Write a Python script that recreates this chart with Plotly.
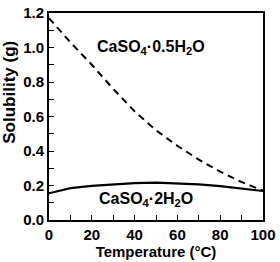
import plotly.graph_objects as go

temps = [0, 10, 20, 30, 40, 50, 60, 70, 80, 90, 100]
hemihydrate = [1.17, 1.03, 0.90, 0.76, 0.63, 0.52, 0.43, 0.35, 0.28, 0.22, 0.17]
dihydrate = [0.155, 0.185, 0.198, 0.207, 0.214, 0.217, 0.213, 0.206, 0.196, 0.184, 0.168]

x_ticks = [0, 20, 40, 60, 80, 100]
x_ticktext = ["0", "20", "40", "60", "80", "100"]
x_minor = [10, 30, 50, 70, 90]
y_ticks = [0.0, 0.2, 0.4, 0.6, 0.8, 1.0, 1.2]
y_ticktext = ["0.0", "0.2", "0.4", "0.6", "0.8", "1.0", "1.2"]
y_minor = [0.1, 0.3, 0.5, 0.7, 0.9, 1.1]

label_hemi = "CaSO<sub>4</sub>·0.5H<sub>2</sub>O"
label_di = "CaSO<sub>4</sub>·2H<sub>2</sub>O"
x_title = "Temperature (°C)"
y_title = "Solubility (g)"

FONT = "Liberation Sans"

fig = go.Figure()
fig.add_trace(go.Scatter(x=temps, y=hemihydrate, mode="lines",
                         line=dict(color="black", width=2, dash="7px,5px")))
fig.add_trace(go.Scatter(x=temps, y=dihydrate, mode="lines",
                         line=dict(color="black", width=2.2)))

fig.add_annotation(x=47.5, y=1.0, text="<b>" + label_hemi + "</b>", showarrow=False,
                   font=dict(family=FONT, size=16, color="black"))
fig.add_annotation(x=45.5, y=0.12, text="<b>" + label_di + "</b>", showarrow=False,
                   font=dict(family=FONT, size=16, color="black"))
fig.add_annotation(xref="paper", yref="paper", x=-0.182, y=0.615, textangle=-90,
                   xanchor="center", yanchor="middle",
                   text="<b>" + y_title + "</b>", showarrow=False,
                   font=dict(family=FONT, size=17, color="black"))

tickfont = dict(family=FONT, size=15, color="black")
axis_common = dict(showgrid=False, zeroline=False, showline=True, linecolor="black",
                   linewidth=2, mirror=True, ticks="inside", ticklen=5, tickwidth=1.2,
                   tickcolor="black", tickfont=tickfont, ticklabeloverflow="allow")

fig.update_xaxes(range=[0, 100], tickmode="array", tickvals=x_ticks,
                 ticktext=["<b>" + t + "</b>" for t in x_ticktext],
                 minor=dict(ticks="inside", tickmode="array", tickvals=x_minor,
                            ticklen=5, tickcolor="black", tickwidth=1.2),
                 title=dict(text="<b>" + x_title + "</b>", standoff=2,
                            font=dict(family=FONT, size=15, color="black")),
                 **axis_common)
fig.update_yaxes(range=[0, 1.2], tickmode="array", tickvals=y_ticks,
                 ticktext=["<b>" + t + "</b>" for t in y_ticktext],
                 minor=dict(ticks="inside", tickmode="array", tickvals=y_minor,
                            ticklen=5, tickcolor="black", tickwidth=1.2),
                 **axis_common)

fig.update_layout(width=280, height=262, showlegend=False,
                  margin=dict(l=49, r=15, t=4, b=42),
                  plot_bgcolor="white", paper_bgcolor="white",
                  font=dict(family=FONT, color="black"))

fig.write_html("out.html")
